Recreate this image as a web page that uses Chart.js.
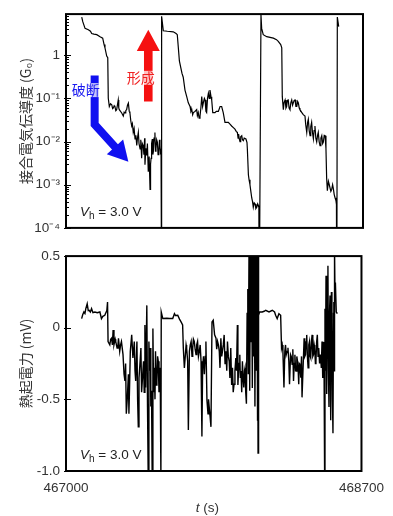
<!DOCTYPE html>
<html>
<head>
<meta charset="utf-8">
<script src="https://cdn.jsdelivr.net/npm/chart.js@4.4.1/dist/chart.umd.min.js"></script>
<style>
html, body { margin: 0; padding: 0; background: #fff; }
#wrap { position: relative; width: 393px; height: 516px; }
canvas { position: absolute; left: 0; }
#top { top: 0; }
#bot { top: 242px; }
</style>
</head>
<body>
<div id="wrap">
  <canvas id="top" width="393" height="242"></canvas>
  <canvas id="bot" width="393" height="274"></canvas>
</div>
<script>
// time axis (s)
const tMin = 467000;
const tMax = 468700;
const xTickValues = [467000, 468700];

// junction conductance (G0), three break/form cycles
const tTop = [
  467090, 467096, 467109, 467128, 467140, 467147, 467160, 467176, 467195, 467210,
  467218, 467223, 467233, 467239, 467242, 467248, 467255, 467262, 467267, 467271,
  467276, 467280, 467285, 467290, 467299, 467302, 467305, 467312, 467319, 467324,
  467328, 467333, 467338, 467342, 467347, 467352, 467357, 467362, 467366, 467371,
  467376, 467380, 467385, 467390, 467395, 467400, 467405, 467409, 467414, 467418,
  467424, 467428, 467433, 467437, 467442, 467446, 467450, 467452, 467457, 467462,
  467466, 467471, 467476, 467481, 467484, 467487, 467490, 467494, 467497, 467500,
  467504, 467509, 467512, 467515, 467519, 467523, 467527, 467531, 467535, 467538,
  467541, 467544, 467546, 467547, 467549,
  467557, 467580, 467614, 467630, 467637, 467643, 467649, 467657, 467664, 467671,
  467681, 467691, 467700, 467710, 467715, 467720, 467725, 467729, 467738, 467748,
  467752, 467757, 467762, 467767, 467772, 467777, 467782, 467786, 467792, 467796,
  467801, 467805, 467810, 467815, 467820, 467824, 467830, 467834, 467840, 467853,
  467860, 467872, 467882, 467891, 467900, 467910, 467929, 467940, 467948, 467958,
  467967, 467975, 467981, 467985, 467988, 467992, 467996, 468000, 468006, 468010,
  468015, 468020, 468030, 468036, 468038, 468044, 468048, 468053, 468058, 468063,
  468068, 468072, 468077, 468082, 468087, 468092, 468097, 468101, 468104, 468106,
  468116,
  468120, 468129, 468149, 468187, 468205, 468215, 468229, 468235, 468238, 468244,
  468248, 468254, 468259, 468263, 468267, 468272, 468277, 468282, 468287, 468292,
  468297, 468301, 468306, 468311, 468316, 468321, 468326, 468330, 468335, 468339,
  468350, 468358, 468368, 468372, 468378, 468383, 468387, 468392, 468397, 468401,
  468406, 468411, 468416, 468420, 468425, 468430, 468435, 468440, 468444, 468449,
  468454, 468459, 468464, 468469, 468473, 468478, 468483, 468488, 468492, 468496,
  468502, 468507, 468511, 468516, 468521, 468526, 468530, 468535, 468540, 468545,
  468548, 468550, 468553, 468561
];
const gTop = [
  7.7, 6.0, 4.2, 3.9, 3.6, 3.2, 3.1, 3.0, 2.7, 2.5,
  1.77, 1.49, 0.96, 0.88, 0.101, 0.065, 0.075, 0.071, 0.058, 0.060,
  0.068, 0.065, 0.052, 0.055, 0.092, 0.06, 0.055, 0.05, 0.046, 0.042,
  0.039, 0.048, 0.046, 0.052, 0.055, 0.07, 0.078, 0.05, 0.046, 0.03,
  0.023, 0.026, 0.0163, 0.02, 0.0115, 0.014, 0.0081, 0.012, 0.0163, 0.009,
  0.0068, 0.011, 0.0041, 0.009, 0.0081, 0.005, 0.012, 0.0029, 0.007, 0.0048,
  0.009, 0.002, 0.0045, 0.00078, 0.003, 0.0041, 0.009, 0.0115, 0.005, 0.0058,
  0.012, 0.0163, 0.006, 0.0068, 0.011, 0.0097, 0.005, 0.0058, 0.011, 0.0081,
  0.005, 0.0068, 0.006, 1e-6, 8.0,
  3.7, 3.6, 3.5, 3.2, 3.0, 1.49, 0.74, 0.52, 0.38, 0.31,
  0.156, 0.11, 0.079, 0.065, 0.05, 0.055, 0.042, 0.047, 0.05, 0.055,
  0.04, 0.047, 0.035, 0.039, 0.06, 0.11, 0.065, 0.079, 0.1, 0.092,
  0.05, 0.047, 0.1, 0.131, 0.1, 0.156, 0.11, 0.092, 0.047, 0.047,
  0.05, 0.05, 0.065, 0.065, 0.047, 0.028, 0.028, 0.025, 0.023, 0.021,
  0.0194, 0.017, 0.0163, 0.012, 0.015, 0.0115, 0.01, 0.013, 0.0137, 0.011,
  0.0105, 0.012, 0.0115, 0.0095, 0.0068, 0.0017, 0.0013, 0.001, 0.0007, 0.0005,
  0.0004, 0.0003, 0.00038, 0.00036, 0.00028, 0.0003, 0.00036, 0.00033, 0.0003, 1e-6,
  8.6,
  4.2, 3.0, 2.7, 2.5, 2.3, 2.1, 1.77, 1.49, 0.11, 0.055,
  0.08, 0.092, 0.06, 0.065, 0.09, 0.092, 0.06, 0.055, 0.08, 0.092,
  0.07, 0.079, 0.09, 0.092, 0.065, 0.065, 0.085, 0.079, 0.06, 0.055,
  0.047, 0.042, 0.039, 0.025, 0.0163, 0.028, 0.033, 0.018, 0.0137, 0.022,
  0.028, 0.016, 0.0115, 0.018, 0.023, 0.012, 0.0098, 0.014, 0.0163, 0.01,
  0.0081, 0.012, 0.0137, 0.009, 0.0098, 0.014, 0.0137, 0.0068, 0.0014, 0.00073,
  0.0012, 0.001, 0.001, 0.0007, 0.00078, 0.001, 0.00082, 0.0006, 0.0005, 0.00043,
  0.00035, 1e-6, 7.7, 4.6
];

// thermoelectric voltage (mV)
const tBot = [
  467090, 467096, 467103, 467109, 467114, 467122, 467128, 467133, 467140, 467147,
  467155, 467166, 467180, 467195, 467204, 467212, 467223, 467235, 467239, 467242,
  467252, 467257, 467262, 467267, 467271, 467276, 467283, 467286, 467294, 467299,
  467302, 467309, 467314, 467319, 467328, 467334, 467339, 467343, 467347, 467353,
  467359, 467362, 467366, 467370, 467378, 467385, 467393, 467397, 467401, 467408,
  467412, 467416, 467420, 467424, 467431, 467435, 467439, 467446, 467450, 467454,
  467458, 467465, 467469, 467473, 467477, 467481, 467485, 467488, 467492, 467496,
  467500, 467504, 467508, 467512, 467515, 467519, 467523, 467527, 467531, 467535,
  467538, 467542, 467546, 467548,
  467557, 467580, 467595, 467614, 467624, 467630, 467643, 467653, 467662, 467671,
  467675, 467681, 467687, 467691, 467694, 467700, 467704, 467710, 467715, 467720,
  467725, 467729, 467733, 467738, 467743, 467748, 467752, 467757, 467762, 467767,
  467772, 467777, 467782, 467786, 467791, 467796, 467801, 467805, 467811, 467817,
  467820, 467824, 467829, 467834, 467840, 467847, 467855, 467863, 467867, 467872,
  467877, 467882, 467886, 467891, 467896, 467900, 467905, 467910, 467915, 467920,
  467925, 467929, 467934, 467939, 467943, 467948, 467953, 467958, 467962, 467967,
  467972, 467977, 467981, 467986, 467989, 467992, 467996, 468000, 468003, 468007,
  468011, 468015, 468019, 468023, 468027, 468030, 468034, 468038, 468042, 468046,
  468049, 468053, 468057, 468061, 468065, 468068, 468072, 468076, 468080, 468083,
  468087, 468091, 468095, 468099, 468101, 468103, 468105, 468106,
  468110, 468114, 468129, 468140, 468149, 468168, 468187, 468200, 468206, 468215,
  468225, 468235, 468240, 468244, 468248, 468254, 468259, 468263, 468267, 468272,
  468277, 468282, 468286, 468292, 468296, 468301, 468305, 468309, 468313, 468317,
  468321, 468324, 468328, 468332, 468336, 468339, 468342, 468345, 468348, 468351,
  468355, 468358, 468364, 468370, 468374, 468378, 468381, 468385, 468389, 468393,
  468397, 468401, 468405, 468408, 468412, 468416, 468420, 468424, 468428, 468431,
  468435, 468438, 468442, 468446, 468450, 468454, 468459, 468464, 468469, 468473,
  468477, 468481, 468484, 468488, 468490, 468493, 468496, 468499, 468501, 468504,
  468507, 468510, 468513, 468516, 468519, 468522, 468524, 468527, 468530, 468533,
  468536, 468539, 468541, 468543, 468545, 468548, 468550, 468555, 468561
];
const vBot = [
  0.064, 0.09, 0.11, 0.1, 0.133, 0.167, 0.12, 0.122, 0.11, 0.133,
  0.105, 0.11, 0.105, 0.11, 0.064, 0.08, 0.087, 0.12, 0.179, -0.096,
  -0.119, -0.08, -0.073, -0.12, -0.016, -0.119, -0.08, -0.096, -0.142, -0.12,
  -0.073, -0.165, -0.12, -0.096, -0.188, -0.325, -0.371, -0.25, -0.6, -0.486,
  -0.325, -0.6, -0.4, -0.165, -0.05, -0.211, -0.096, -0.3, -0.371, -0.096,
  -0.5, -0.692, -0.35, -0.28, -0.142, -0.45, -0.371, -0.234, -0.45, 0.019,
  -0.417, 0.156, -0.554, -1.05, -0.096, -0.3, -0.142, -0.55, -0.44, -1.05,
  -0.005, -0.45, -0.28, -0.5, -0.165, -0.4, -0.371, -0.2, -0.234, -0.45,
  -0.417, -0.28, -1.05, 0.11,
  0.064, 0.066, 0.064, 0.064, 0.098, 0.085, 0.087, 0.06, 0.041, 0.019,
  -0.142, -0.28, -0.188, -0.12, -0.142, -0.234, -0.714, -0.165, -0.12, -0.096,
  -0.2, -0.142, -0.08, -0.096, -0.15, -0.188, -0.12, -0.096, -0.2, -0.165,
  -0.12, -0.234, -0.76, -0.28, -0.2, -0.325, -0.2, -0.096, -0.508, -0.6,
  -0.5, -0.554, -0.62, -0.692, 0.041, 0.053, -0.05, -0.073, -0.15, -0.096,
  -0.12, -0.165, -0.28, -0.073, -0.2, -0.165, -0.12, -0.05, -0.25, -0.165,
  -0.3, -0.096, -0.2, -0.234, -0.35, -0.142, -0.4, -0.28, -0.45, -0.394,
  -0.3, -0.211, -0.3, 0.019, -0.4, -0.325, -0.25, -0.188, -0.35, -0.302,
  -0.45, -0.234, -0.35, -0.417, -0.3, -0.28, -0.45, -0.531, 0.1, 0.27,
  -0.325, 0.55, -0.44, 0.55, -0.096, 0.55, -0.42, 0.55, -0.2, 0.55,
  -0.55, 0.55, -0.3, 0.55, -0.65, 0.55, -0.875, 0.55,
  0.087, 0.11, 0.11, 0.115, 0.122, 0.11, 0.122, 0.11, 0.087, 0.064,
  0.098, 0.087, -0.142, -0.12, -0.165, -0.417, -0.165, -0.12, -0.188, -0.165,
  -0.14, -0.234, -0.394, -0.188, -0.2, -0.256, -0.15, -0.371, -0.25, -0.188,
  -0.3, -0.302, -0.2, -0.234, -0.3, -0.394, -0.25, -0.256, -0.3, -0.348,
  -0.2, -0.486, -0.28, -0.073, -0.2, -0.188, -0.1, -0.05, -0.2, -0.28,
  -0.12, -0.096, -0.2, -0.211, -0.1, -0.05, -0.2, -0.188, -0.12, -0.142,
  -0.25, -0.234, -0.1, -0.05, -0.2, -0.142, -0.25, -0.188, -0.28, -0.096,
  -0.35, -0.234, -0.1, -1.05, 0.133, -0.3, 0.362, -0.35, -0.462, 0.2,
  0.433, -0.3, -0.554, 0.1, 0.225, -0.4, -0.646, 0.25, 0.041, -0.5,
  -0.737, 0.1, 0.179, -0.3, 0.55, 0.2, 0.316, 0.11, 0.098
];

const gTicks = [1e-4, 1e-3, 1e-2, 1e-1, 1];
const gTickLabels = ['10\u207B\u2074', '10\u207B\u00B3', '10\u207B\u00B2', '10\u207B\u00B9', '1'];
const vTicks = [-1, -0.5, 0, 0.5];
const vTickLabels = ['-1.0', '-0.5', '0', '0.5'];

const FONT = "'Liberation Sans', Arial, 'Noto Sans CJK JP', sans-serif";
const CJK = "'Noto Sans CJK JP', 'Liberation Sans', sans-serif";
Chart.defaults.font.family = FONT;
Chart.defaults.color = '#333';

function toPoints(xs, ys) {
  return xs.map((x, i) => ({ x: x, y: ys[i] }));
}

function drawRuns(ctx, x, y, runs) {
  for (const r of runs) {
    ctx.font = r.font;
    ctx.fillText(r.text, x, y + (r.dy || 0));
    x += ctx.measureText(r.text).width;
  }
}

// box, inward ticks and the V_h note
const frame = {
  id: 'frame',
  afterDatasetsDraw(chart, args, opts) {
    const { ctx, chartArea: a } = chart;
    const y = chart.scales.y;
    ctx.save();
    ctx.strokeStyle = '#000';
    ctx.lineWidth = 1.2;
    ctx.beginPath();
    for (const v of opts.major) {
      const py = Math.round(y.getPixelForValue(v)) + 0.5;
      ctx.moveTo(a.left - 2, py);
      ctx.lineTo(a.left + 5, py);
    }
    for (const v of (opts.minor || [])) {
      const py = Math.round(y.getPixelForValue(v)) + 0.5;
      ctx.moveTo(a.left, py);
      ctx.lineTo(a.left + 3, py);
    }
    ctx.stroke();
    ctx.lineWidth = 2;
    ctx.strokeRect(a.left, a.top, a.right - a.left, a.bottom - a.top);

    ctx.fillStyle = '#222';
    ctx.textBaseline = 'alphabetic';
    drawRuns(ctx, a.left + 14, a.bottom - 12, [
      { text: 'V', font: 'italic 13.5px ' + FONT },
      { text: 'h', font: '10px ' + FONT, dy: 3 },
      { text: ' = 3.0 V', font: '13.5px ' + FONT }
    ]);
    ctx.restore();
  }
};

function arrowUp(ctx, x, yTip, yBase, yEnd, headHalf, shaftHalf) {
  ctx.beginPath();
  ctx.moveTo(x, yTip);
  ctx.lineTo(x + headHalf, yBase);
  ctx.lineTo(x + shaftHalf, yBase);
  ctx.lineTo(x + shaftHalf, yEnd);
  ctx.lineTo(x - shaftHalf, yEnd);
  ctx.lineTo(x - shaftHalf, yBase);
  ctx.lineTo(x - headHalf, yBase);
  ctx.closePath();
  ctx.fill();
}

function labelBox(ctx, text, cx, cy, color) {
  ctx.font = '14px ' + CJK;
  const w = ctx.measureText(text).width;
  ctx.fillStyle = 'rgba(255,255,255,0.75)';
  ctx.fillRect(cx - w / 2 - 1, cy - 7, w + 2, 14);
  ctx.fillStyle = color;
  ctx.textAlign = 'center';
  ctx.textBaseline = 'middle';
  ctx.fillText(text, cx, cy);
}

// break / form arrows on the conductance panel
const arrows = {
  id: 'arrows',
  afterDatasetsDraw(chart) {
    const { ctx } = chart;
    const xs = chart.scales.x, ys = chart.scales.y;
    ctx.save();
    // formation (red, up)
    ctx.fillStyle = '#f51010';
    arrowUp(ctx, xs.getPixelForValue(467471), ys.getPixelForValue(3.9),
      ys.getPixelForValue(1.25), ys.getPixelForValue(0.085), 11.5, 4.3);

    // breaking (blue, down then diagonal)
    const sx = xs.getPixelForValue(467164);
    const sTop = ys.getPixelForValue(0.34);
    const bend = ys.getPixelForValue(0.025);
    const tx = xs.getPixelForValue(467357), ty = ys.getPixelForValue(0.0034);
    const dx = tx - sx, dy = ty - bend, len = Math.hypot(dx, dy);
    const ux = dx / len, uy = dy / len;
    const bx = tx - ux * 20, by = ty - uy * 20;
    ctx.strokeStyle = '#1010f0';
    ctx.fillStyle = '#1010f0';
    ctx.lineWidth = 8;
    ctx.lineJoin = 'miter';
    ctx.beginPath();
    ctx.moveTo(sx, sTop);
    ctx.lineTo(sx, bend);
    ctx.lineTo(bx + ux * 2, by + uy * 2);
    ctx.stroke();
    ctx.beginPath();
    ctx.moveTo(tx, ty);
    ctx.lineTo(bx - uy * 11, by + ux * 11);
    ctx.lineTo(bx + uy * 11, by - ux * 11);
    ctx.closePath();
    ctx.fill();

    labelBox(ctx, '破断', xs.getPixelForValue(467113), ys.getPixelForValue(0.156), '#1a1af0');
    labelBox(ctx, '形成', xs.getPixelForValue(467428), ys.getPixelForValue(0.30), '#f02020');
    ctx.restore();
  }
};

// italic t for the time axis title
const timeTitle = {
  id: 'timeTitle',
  afterDraw(chart) {
    const { ctx, chartArea: a } = chart;
    ctx.save();
    ctx.fillStyle = '#333';
    ctx.textBaseline = 'alphabetic';
    drawRuns(ctx, (a.left + a.right) / 2 - 18, chart.height - 4, [
      { text: 't', font: 'italic 13.5px ' + FONT },
      { text: ' (s)', font: '13.5px ' + FONT }
    ]);
    ctx.restore();
  }
};

const lineStyle = {
  borderColor: '#000',
  pointRadius: 0,
  tension: 0,
  fill: false
};

new Chart(document.getElementById('top'), {
  type: 'line',
  data: { datasets: [Object.assign({ data: toPoints(tTop, gTop), borderWidth: 1.2 }, lineStyle)] },
  plugins: [arrows, frame],
  options: {
    responsive: false,
    animation: false,
    layout: { padding: { left: 0, right: 30, top: 12, bottom: 11 } },
    plugins: {
      legend: { display: false },
      tooltip: { enabled: false },
      frame: {
        major: gTicks,
        minor: [2, 3, 4, 5, 6, 7, 8, 9].flatMap(m => gTicks.slice(0, 4).map(d => m * d)).concat([2, 3, 4, 5, 6, 7, 8, 9])
      }
    },
    scales: {
      x: { type: 'linear', display: false, min: tMin, max: tMax },
      y: {
        type: 'logarithmic',
        min: 1e-4,
        max: 9,
        afterFit: s => { s.width = 66; },
        afterBuildTicks: s => { s.ticks = gTicks.map(v => ({ value: v })); },
        grid: { display: false, drawTicks: false },
        border: { display: false },
        ticks: {
          autoSkip: false,
          padding: 6,
          font: { size: 13.5 },
          callback: v => gTickLabels[gTicks.findIndex(g => Math.abs(Math.log10(g) - Math.log10(v)) < 1e-6)]
        },
        title: {
          display: true,
          text: '接合電気伝導度 (G\u2080)',
          font: { size: 14, family: CJK },
          color: '#333',
          padding: { top: 17, bottom: 0 }
        }
      }
    }
  }
});

new Chart(document.getElementById('bot'), {
  type: 'line',
  data: { datasets: [Object.assign({ data: toPoints(tBot, vBot), borderWidth: 1.4 }, lineStyle)] },
  plugins: [frame, timeTitle],
  options: {
    responsive: false,
    animation: false,
    layout: { padding: { left: 0, right: 30, top: 11, bottom: 0 } },
    plugins: {
      legend: { display: false },
      tooltip: { enabled: false },
      frame: { major: vTicks }
    },
    scales: {
      x: {
        type: 'linear',
        min: tMin,
        max: tMax,
        afterFit: s => { s.height = 45; },
        afterBuildTicks: s => { s.ticks = xTickValues.map(v => ({ value: v })); },
        grid: { display: false, drawTicks: false },
        border: { display: false },
        ticks: { autoSkip: false, maxRotation: 0, padding: 9, font: { size: 13.5 }, callback: v => String(v) }
      },
      y: {
        type: 'linear',
        min: -1,
        max: 0.5,
        afterFit: s => { s.width = 66; },
        afterBuildTicks: s => { s.ticks = vTicks.map(v => ({ value: v })); },
        grid: { display: false, drawTicks: false },
        border: { display: false },
        ticks: {
          autoSkip: false,
          padding: 6,
          font: { size: 13.5 },
          callback: v => vTickLabels[vTicks.indexOf(v)]
        },
        title: {
          display: true,
          text: '熱起電力 (mV)',
          font: { size: 14, family: CJK },
          color: '#333',
          padding: { top: 17, bottom: 0 }
        }
      }
    }
  }
});
</script>
</body>
</html>
